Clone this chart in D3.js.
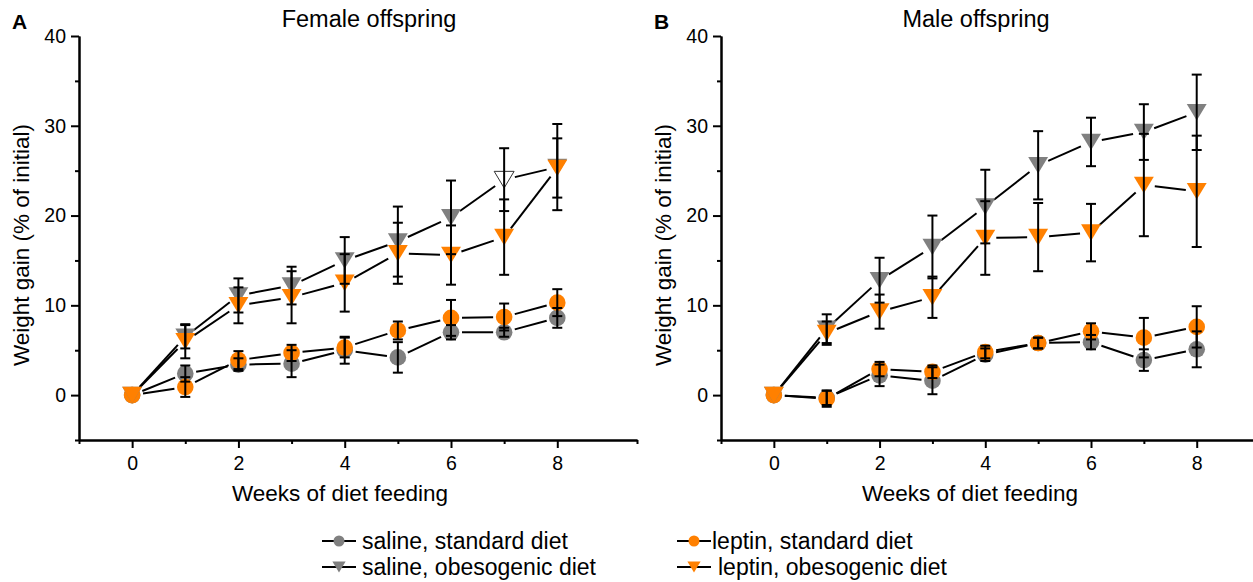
<!DOCTYPE html>
<html>
<head>
<meta charset="utf-8">
<script src="https://cdn.jsdelivr.net/npm/d3@7"></script>
<style>
  body { margin: 0; background: #fff; }
  svg { font-family: "Liberation Sans", Arial, sans-serif; }
</style>
</head>
<body>
<div id="chart"></div>
<script>
// weeks of diet feeding
const weeks = [0, 1, 2, 3, 4, 5, 6, 7, 8];

// female offspring (mean, error)
const femaleSalineStd    = [0, 2.4, 3.4, 3.5, 5.0, 4.2, 7.0, 7.0, 8.6];
const femaleSalineStdErr = [0, 0.9, 0.7, 1.5, 1.5, 1.7, 0.8, 0.5, 1.1];
const femaleLeptinStd    = [0, 0.9, 3.9, 4.7, 5.3, 7.2, 8.6, 8.7, 10.3];
const femaleLeptinStdErr = [0, 1.1, 1.0, 0.9, 1.1, 1.0, 2.0, 1.5, 1.5];
const femaleSalineOb     = [0, 6.5, 11.1, 12.2, 15.0, 17.1, 19.8, 24.0, 25.4];
const femaleSalineObErr  = [0, 1.3, 1.9, 2.1, 2.6, 3.9, 4.1, 3.5, 4.8];
const femaleLeptinOb     = [0, 6.0, 10.0, 10.9, 12.5, 15.8, 15.6, 17.6, 25.3];
const femaleLeptinObErr  = [0, 1.9, 2.0, 2.9, 3.2, 3.4, 3.3, 4.2, 3.3];
const femaleSalineObOpen = [7]; // week drawn as an open symbol

// male offspring (mean, error)
const maleSalineStd    = [0, -0.3, 2.2, 1.6, 4.5, 5.8, 5.9, 3.9, 5.1];
const maleSalineStdErr = [0, 0.8, 1.2, 1.5, 0.7, 0.6, 0.8, 1.2, 2.0];
const maleLeptinStd    = [0, -0.4, 2.9, 2.6, 4.8, 5.8, 7.1, 6.4, 7.6];
const maleLeptinStdErr = [0, 0.9, 0.8, 0.7, 0.7, 0.6, 0.9, 2.2, 2.3];
const maleSalineOb     = [0, 7.4, 12.8, 16.5, 21.0, 25.6, 28.2, 29.3, 31.5];
const maleSalineObErr  = [0, 1.6, 2.5, 3.5, 4.1, 3.8, 2.7, 3.1, 4.2];
const maleLeptinOb     = [0, 6.9, 9.3, 10.9, 17.5, 17.6, 18.1, 23.4, 22.7];
const maleLeptinObErr  = [0, 1.3, 1.9, 2.3, 4.1, 3.8, 3.2, 5.7, 6.2];

const seriesNames = ["saline, standard diet", "leptin, standard diet",
                     "saline, obesogenic diet", "leptin, obesogenic diet"];
const yMajorTicks = [0, 10, 20, 30, 40];
const yMinorTicks = [-5, 5, 15, 25, 35];
const xMajorTicks = [0, 2, 4, 6, 8];
const xMinorTicks = [-1, 1, 3, 5, 7, 9.5];

const GREY = "#808080", ORANGE = "#ff8000";
const styles = [
  { color: GREY, shape: "circle" },
  { color: ORANGE, shape: "circle" },
  { color: GREY, shape: "tri" },
  { color: ORANGE, shape: "tri" }
];

const width = 1253, height = 582;
const svg = d3.select("#chart").append("svg")
    .attr("width", width)
    .attr("height", height);

// down-pointing triangle centred on its box
function triPath(w, h) {
  return `M${-w / 2},${-h / 2}L${w / 2},${-h / 2}L0,${h / 2}Z`;
}

function drawMarker(g, shape, color, size, open) {
  if (shape === "circle") {
    g.append("circle").attr("r", size).attr("fill", color);
  } else {
    g.append("path").attr("d", triPath(size * 2.4, size * 2))
      .attr("fill", open ? "#fff" : color)
      .attr("stroke", open ? "#333" : "none")
      .attr("stroke-width", 1);
  }
}

const panels = [
  { letter: "A", title: "Female offspring", xRange: [79, 637], titleX: 369, labelX: 340, yLabelX: 29,
    series: [
      [femaleSalineStd, femaleSalineStdErr, []],
      [femaleLeptinStd, femaleLeptinStdErr, []],
      [femaleSalineOb, femaleSalineObErr, femaleSalineObOpen],
      [femaleLeptinOb, femaleLeptinObErr, []]
    ] },
  { letter: "B", title: "Male offspring", xRange: [721, 1276], titleX: 976, labelX: 970, yLabelX: 671,
    series: [
      [maleSalineStd, maleSalineStdErr, []],
      [maleLeptinStd, maleLeptinStdErr, []],
      [maleSalineOb, maleSalineObErr, []],
      [maleLeptinOb, maleLeptinObErr, []]
    ] }
];

const y = d3.scaleLinear().domain([-5, 40]).range([440, 36]);

panels.forEach(p => {
  const x = d3.scaleLinear().domain([-1, 9.5]).range(p.xRange);
  const g = svg.append("g");
  const x0 = p.xRange[0];

  // axes
  g.append("g").attr("transform", `translate(${x0},0)`)
      .call(d3.axisLeft(y).tickValues(yMajorTicks).tickSize(8).tickSizeOuter(0).tickPadding(5));
  g.append("g").attr("transform", `translate(${x0},0)`)
      .call(d3.axisLeft(y).tickValues(yMinorTicks).tickSize(4).tickSizeOuter(0).tickFormat(""));
  g.append("g").attr("transform", "translate(0,440)")
      .call(d3.axisBottom(x).tickValues(xMajorTicks).tickSize(8).tickSizeOuter(0).tickPadding(8));
  g.append("g").attr("transform", "translate(0,440)")
      .call(d3.axisBottom(x).tickValues(xMinorTicks).tickSize(4).tickSizeOuter(0).tickFormat(""));
  g.selectAll(".domain, .tick line").attr("stroke", "#000").attr("stroke-width", 2);
  g.selectAll(".tick text").attr("font-size", 19.5).attr("fill", "#000")
      .attr("font-family", "Liberation Sans, Arial, sans-serif");

  // titles
  g.append("text").attr("x", p.titleX).attr("y", 27).attr("text-anchor", "middle")
      .attr("font-size", 23.5).text(p.title);
  g.append("text").attr("x", x0 - 67).attr("y", 29).attr("font-size", 21)
      .attr("font-weight", "bold").text(p.letter);
  g.append("text").attr("x", p.labelX).attr("y", 501).attr("text-anchor", "middle")
      .attr("font-size", 22.5).text("Weeks of diet feeding");
  g.append("text")
      .attr("transform", `translate(${p.yLabelX},245) rotate(-90)`)
      .attr("text-anchor", "middle").attr("font-size", 22.5)
      .text("Weight gain (% of initial)");

  // connecting lines with a gap at each symbol
  const gap = 11;
  p.series.forEach(([vals]) => {
    const pts = weeks.map((w, i) => [x(w), y(vals[i])]);
    for (let i = 0; i < pts.length - 1; i++) {
      const [ax, ay] = pts[i], [bx, by] = pts[i + 1];
      const len = Math.hypot(bx - ax, by - ay);
      if (len <= 2 * gap) continue;
      const ux = (bx - ax) / len, uy = (by - ay) / len;
      g.append("line")
        .attr("x1", ax + ux * gap).attr("y1", ay + uy * gap)
        .attr("x2", bx - ux * gap).attr("y2", by - uy * gap)
        .attr("stroke", "#000").attr("stroke-width", 2);
    }
  });

  // symbols
  p.series.forEach(([vals, , open], s) => {
    weeks.forEach((w, i) => {
      const m = g.append("g").attr("transform", `translate(${x(w)},${y(vals[i])})`);
      drawMarker(m, styles[s].shape, styles[s].color, 8.3, open.includes(w));
    });
  });

  // error bars
  p.series.forEach(([vals, errs]) => {
    weeks.forEach((w, i) => {
      if (!errs[i]) return;
      const cx = x(w), top = y(vals[i] + errs[i]), bot = y(vals[i] - errs[i]);
      g.append("line").attr("x1", cx).attr("x2", cx).attr("y1", top).attr("y2", bot)
        .attr("stroke", "#000").attr("stroke-width", 2);
      [top, bot].forEach(cy => g.append("line")
        .attr("x1", cx - 5).attr("x2", cx + 5).attr("y1", cy).attr("y2", cy)
        .attr("stroke", "#000").attr("stroke-width", 2));
    });
  });
});

// legend
const legendPos = [
  { x: 322, y: 541, tx: 362 },
  { x: 677, y: 541, tx: 712 },
  { x: 322, y: 567, tx: 362 },
  { x: 677, y: 567, tx: 718 }
];
seriesNames.forEach((name, s) => {
  const lp = legendPos[s];
  const lg = svg.append("g").attr("transform", `translate(${lp.x},${lp.y})`);
  lg.append("line").attr("x1", 0).attr("x2", 34).attr("stroke", "#000").attr("stroke-width", 2);
  const m = lg.append("g").attr("transform", "translate(17,0)");
  drawMarker(m, styles[s].shape, styles[s].color, 5.5, false);
  svg.append("text").attr("x", lp.tx).attr("y", lp.y + 8).attr("font-size", 23).text(name);
});
</script>
</body>
</html>
